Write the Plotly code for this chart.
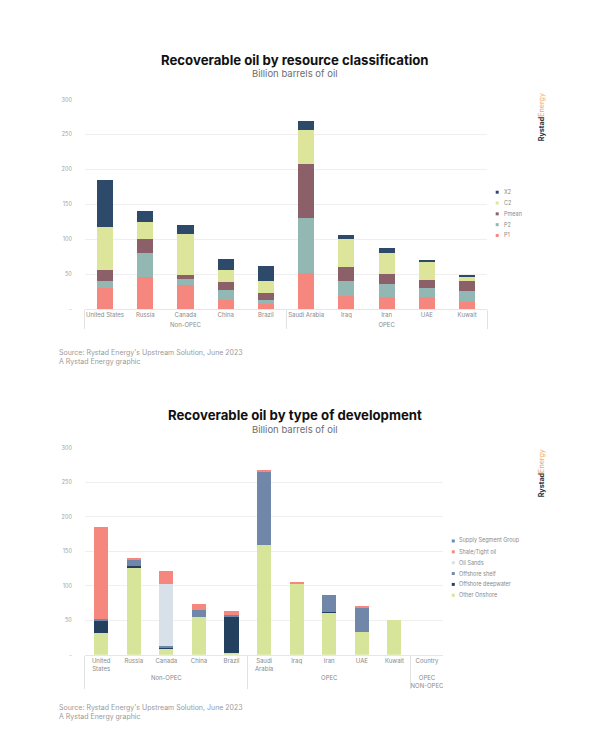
import plotly.graph_objects as go

W, H = 614, 739
OFF = 8  # page body margin of the browser

# ---------------- data ----------------
top_countries = ["United States", "Russia", "Canada", "China", "Brazil",
                 "Saudi Arabia", "Iraq", "Iran", "UAE", "Kuwait"]
top_groups = ["Non-OPEC"] * 5 + ["OPEC"] * 5
p1 = [30, 46, 34, 13, 7.5, 52, 19, 18, 17, 10]
p2 = [10.5, 34, 10, 15, 5.5, 79, 21, 18, 13, 16.5]
pmean = [15, 20, 5.5, 11, 10, 77, 20, 14, 12, 14]
c2 = [62, 25, 58, 17.5, 17.5, 48, 40, 30, 25.5, 5.5]
x2 = [67, 15, 13, 16, 22, 13, 6, 7.5, 3, 3.5]

bot_countries = ["United<br>States", "Russia", "Canada", "China", "Brazil",
                 "Saudi<br>Arabia", "Iraq", "Iran", "UAE", "Kuwait", "Country"]
bot_groups = ["Non-OPEC"] * 5 + ["OPEC"] * 5 + ["OPEC<br>NON-OPEC"]
other_onshore = [31, 127, 8, 54.5, 2.5, 159, 104, 61, 33, 50.5, None]
offshore_deep = [19, 1, 3, 0, 54, 0, 0, 1.5, 0, 0, None]
offshore_shelf = [2, 11, 1.5, 10, 0.5, 107, 0, 24.5, 36, 0, None]
oil_sands = [0, 0, 90.5, 0, 0, 0, 0, 0, 0, 0, None]
shale_tight = [133, 1, 18.5, 8.5, 6.5, 1.5, 2, 0, 2, 0, None]

y_ticks = [0, 50, 100, 150, 200, 250, 300]
y_ticktext = ["-", "50", "100", "150", "200", "250", "300"]

# ---------------- styles ----------------
C_P1 = "#F6877F"
C_P2 = "#93B7B2"
C_PMEAN = "#8B6068"
C_C2 = "#DDE59B"
C_X2 = "#2D4A6B"
C_ONSHORE = "#D6E59A"
C_DEEP = "#24405F"
C_SHELF = "#7187AA"
C_SANDS = "#D8E0EA"
C_SHALE = "#F6877F"
C_SSG = "#5F8DB8"

FONT = "Inter"
GRID = "#EFEFEF"
DIV = "#E2E2E2"


def px(x):
    return (x - OFF) / W


def py(y):
    return 1 - (y - OFF) / H


fig = go.Figure()

top_x = [top_groups, top_countries]
for name, vals, col in [("P1", p1, C_P1), ("P2", p2, C_P2), ("Pmean", pmean, C_PMEAN),
                        ("C2", c2, C_C2), ("X2", x2, C_X2)]:
    fig.add_trace(go.Bar(x=top_x, y=vals, name=name, marker=dict(color=col, line=dict(width=0)),
                         width=0.4, xaxis="x", yaxis="y", showlegend=False))

bot_x = [bot_groups, bot_countries]
for name, vals, col in [("Other Onshore", other_onshore, C_ONSHORE),
                        ("Offshore deepwater", offshore_deep, C_DEEP),
                        ("Offshore shelf", offshore_shelf, C_SHELF),
                        ("Oil Sands", oil_sands, C_SANDS),
                        ("Shale/Tight oil", shale_tight, C_SHALE)]:
    fig.add_trace(go.Bar(x=bot_x, y=vals, name=name, marker=dict(color=col, line=dict(width=0)),
                         width=0.43, xaxis="x2", yaxis="y2", showlegend=False))

xcommon = dict(type="multicategory", showgrid=False, showline=True, linecolor="#E6E6E6",
               linewidth=1, tickangle=0, tickfont=dict(family=FONT, size=6, color="#8A8A8A"),
               showdividers=True, dividercolor=DIV, dividerwidth=1, ticks="")
ycommon = dict(range=[0, 300], tickvals=y_ticks, ticktext=y_ticktext, showgrid=True,
               gridcolor=GRID, gridwidth=1, zeroline=False, showline=False,
               tickfont=dict(family=FONT, size=5.5, color="#A0A0A0"), ticklabelstandoff=12)

fig.update_layout(
    width=W, height=H, margin=dict(l=0, r=0, t=0, b=0),
    paper_bgcolor="white", plot_bgcolor="white", barmode="stack",
    xaxis=dict(domain=[px(85), px(488)], anchor="y", **xcommon),
    yaxis=dict(domain=[py(308.7), py(97.3)], anchor="x", **ycommon),
    xaxis2=dict(domain=[px(85), px(444)], anchor="y2", **xcommon),
    yaxis2=dict(domain=[py(657), py(448.3)], anchor="x2", **ycommon),
)

ann = []
shapes = []


def text(x, y, s, size, color="#333", xanchor="center", angle=0, family=FONT):
    ann.append(dict(x=px(x), y=py(y), xref="paper", yref="paper", text=s, showarrow=False,
                    xanchor=xanchor, yanchor="middle", textangle=angle,
                    font=dict(family=family, size=size, color=color)))


# titles
text(295, 57, "<b>Recoverable oil by resource classification</b>", 13.2, "#111")
text(295, 71, "Billion barrels of oil", 9.5, "#6E6E6E")
text(295, 415.5, "<b>Recoverable oil by type of development</b>", 13.2, "#111")
text(295, 430, "Billion barrels of oil", 9.5, "#6E6E6E")

# sources
for y0 in (352, 710):
    text(57, y0, "Source: Rystad Energy's Upstream Solution, June 2023", 7, "#9A9A9A", xanchor="left")
    text(57, y0 + 9.3, "A Rystad Energy graphic", 7, "#9A9A9A", xanchor="left")

# logos
for yc in (115, 474):
    text(542, yc, "<b>Rystad</b><span style='color:#F2A66A'>Energy</span>", 7.2, "#2A3442", angle=-90)

# legends
top_leg = [("X2", C_X2), ("C2", C_C2), ("Pmean", C_PMEAN), ("P2", C_P2), ("P1", C_P1)]
for i, (n, c) in enumerate(top_leg):
    yy = 190.7 + i * 10.9
    shapes.append(dict(type="rect", xref="paper", yref="paper", x0=px(496.5), x1=px(499.5),
                       y0=py(yy + 1.5), y1=py(yy - 1.5), fillcolor=c, line=dict(width=0)))
    text(502.5, yy, n, 5.5, "#8A8A8A", xanchor="left")

bot_leg = [("Supply Segment Group", C_SSG), ("Shale/Tight oil", C_SHALE), ("Oil Sands", C_SANDS),
           ("Offshore shelf", C_SHELF), ("Offshore deepwater", C_DEEP), ("Other Onshore", C_ONSHORE)]
for i, (n, c) in enumerate(bot_leg):
    yy = 542.3 + i * 10.95
    shapes.append(dict(type="rect", xref="paper", yref="paper", x0=px(452.5), x1=px(455.5),
                       y0=py(yy + 1.5), y1=py(yy - 1.5), fillcolor=c, line=dict(width=0)))
    text(458, yy, n, 5.5, "#8A8A8A", xanchor="left")

fig.update_layout(annotations=ann, shapes=shapes)
fig.write_html("out.html")
